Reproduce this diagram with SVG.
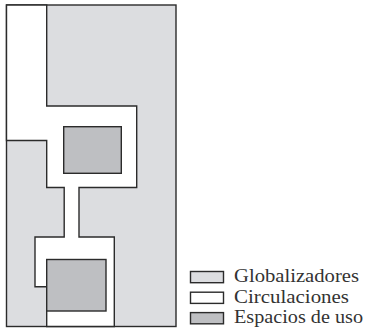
<svg xmlns="http://www.w3.org/2000/svg" width="366" height="333" viewBox="0 0 366 333">
<style>
.ln{stroke:#2b2b2b;stroke-width:1.4;stroke-linejoin:miter}
.glob{fill:#dcdde0}
.circ{fill:#ffffff}
.esp{fill:#bebfc2}
.lbl{font-family:"Liberation Serif","Times New Roman",serif;font-size:18px;fill:#333333}
</style>
<rect width="366" height="333" fill="#ffffff"/>
<g id="plan">
<rect id="globalizador" class="glob ln" x="6.5" y="5" width="169.5" height="321.5"/>
<polygon id="circulacion" class="circ ln" points="6.5,5 46.7,5 46.7,106 136.7,106 136.7,187.5 79,187.5 79,237 114.3,237 114.3,326.5 46.7,326.5 46.7,286.7 35,286.7 35,237 64.2,237 64.2,187.5 46.7,187.5 46.7,140.5 6.5,140.5"/>
<rect id="espacio1" class="esp ln" x="63.7" y="126.7" width="57.6" height="46.6"/>
<rect id="espacio2" class="esp ln" x="46.7" y="259.5" width="59.3" height="51.5"/>
</g>
<g id="legend">
<g id="leg-glob"><rect class="glob ln" x="190.5" y="271.5" width="33" height="11.2"/><text class="lbl" x="234" y="282" textLength="125" lengthAdjust="spacingAndGlyphs">Globalizadores</text></g>
<g id="leg-circ"><rect class="circ ln" x="190.5" y="292.2" width="33" height="11.2"/><text class="lbl" x="234" y="302.5" textLength="115" lengthAdjust="spacingAndGlyphs">Circulaciones</text></g>
<g id="leg-esp"><rect class="esp ln" x="190.5" y="312.6" width="33" height="11.2"/><text class="lbl" x="234" y="323" textLength="129" lengthAdjust="spacingAndGlyphs">Espacios de uso</text></g>
</g>
</svg>
